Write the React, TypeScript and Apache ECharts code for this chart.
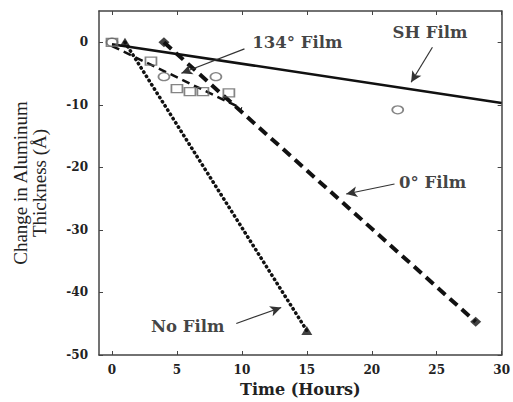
import React, { useEffect, useRef } from "react";
import * as echarts from "echarts";

// Measured points
const shTimes = [0, 4, 8, 22];
const shValues = [0, -5.5, -5.5, -10.8];
const film134Times = [0, 3, 5, 6, 7, 9];
const film134Values = [0, -3.0, -7.4, -7.9, -7.9, -8.1];
const film0Times = [4, 28];
const film0Values = [0, -44.7];
const noFilmTimes = [1, 15];
const noFilmValues = [0, -46.1];

// Fitted lines
const shFitTimes = [0, 30];
const shFitValues = [-0.3, -9.7];
const fit134Times = [0, 10];
const fit134Values = [-0.6, -10.6];
const fit0Times = [4, 28];
const fit0Values = [0, -44.7];
const fitNoTimes = [1, 15];
const fitNoValues = [0, -46.1];

const xTicks = [0, 5, 10, 15, 20, 25, 30];
const yTicks = [-50, -40, -30, -20, -10, 0];

// Annotation labels and arrows (data coordinates)
const annotLabels = ["134° Film", "SH Film", "0° Film", "No Film"];
const annotPos = [
  [10.8, -0.05],
  [21.6, 1.55],
  [22.1, -22.4],
  [3.0, -45.5],
];
const arrowFrom = [
  [10.2, -1.06],
  [24.67, -0.8],
  [21.75, -22.66],
  [9.57, -44.96],
];
const arrowTo = [
  [5.34, -4.96],
  [23.03, -6.4],
  [18.03, -24.26],
  [13.03, -42.4],
];

const zip = (xs: number[], ys: number[]) => xs.map((x, i) => [x, ys[i]]);

const SERIF_BOLD = "DejaVu Serif";
const AXIS_COLOR = "#444";

export default function App() {
  const ref = useRef<HTMLDivElement>(null);
  useEffect(() => {
    if (!ref.current) return;
    const chart = echarts.init(ref.current, undefined, { renderer: "svg" });
    const tickLabel = {
      fontFamily: SERIF_BOLD,
      fontWeight: "bold" as const,
      fontSize: 12,
      color: "#222",
    };
    chart.setOption({
      animation: false,
      backgroundColor: "#fff",
      grid: { left: 99, right: 10, top: 11, bottom: 47, show: false },
      xAxis: [
        {
          type: "value",
          min: -1,
          max: 30,
          position: "bottom",
          splitLine: { show: false },
          axisLine: { show: true, onZero: false, lineStyle: { color: AXIS_COLOR, width: 1.5 } },
          axisTick: { show: true, inside: true, length: 4, customValues: xTicks, lineStyle: { color: AXIS_COLOR } },
          axisLabel: { ...tickLabel, margin: 9, customValues: xTicks },
          name: "Time (Hours)",
          nameLocation: "middle",
          nameGap: 26,
          nameTextStyle: { fontFamily: SERIF_BOLD, fontWeight: "bold", fontSize: 16, color: "#222" },
        },
        {
          type: "value",
          min: -1,
          max: 30,
          position: "top",
          splitLine: { show: false },
          axisLine: { show: true, onZero: false, lineStyle: { color: AXIS_COLOR, width: 1.5 } },
          axisTick: { show: true, inside: true, length: 4, customValues: xTicks, lineStyle: { color: AXIS_COLOR } },
          axisLabel: { show: false },
        },
      ],
      yAxis: [
        {
          type: "value",
          min: -50,
          max: 5,
          position: "left",
          splitLine: { show: false },
          axisLine: { show: true, onZero: false, lineStyle: { color: AXIS_COLOR, width: 1.5 } },
          axisTick: { show: true, inside: true, length: 4, customValues: yTicks, lineStyle: { color: AXIS_COLOR } },
          axisLabel: { ...tickLabel, margin: 11, customValues: yTicks },
          name: "Change in Aluminum\nThickness (Å)",
          nameLocation: "middle",
          nameGap: 50,
          nameTextStyle: {
            fontFamily: "Liberation Serif",
            fontSize: 19,
            lineHeight: 19,
            color: "#222",
            align: "center",
          },
        },
        {
          type: "value",
          min: -50,
          max: 5,
          position: "right",
          splitLine: { show: false },
          axisLine: { show: true, onZero: false, lineStyle: { color: AXIS_COLOR, width: 1.5 } },
          axisTick: { show: true, inside: true, length: 4, customValues: yTicks, lineStyle: { color: AXIS_COLOR } },
          axisLabel: { show: false },
        },
      ],
      series: [
        {
          name: "SH fit",
          type: "line",
          data: zip(shFitTimes, shFitValues),
          showSymbol: false,
          lineStyle: { color: "#111", width: 2.5 },
          z: 3,
        },
        {
          name: "134 fit",
          type: "line",
          data: zip(fit134Times, fit134Values),
          showSymbol: false,
          lineStyle: { color: "#111", width: 2.5, type: [8, 5] },
          z: 3,
        },
        {
          name: "0 fit",
          type: "line",
          data: zip(fit0Times, fit0Values),
          showSymbol: false,
          lineStyle: { color: "#111", width: 4, type: [10, 6] },
          z: 3,
        },
        {
          name: "No film fit",
          type: "line",
          data: zip(fitNoTimes, fitNoValues),
          showSymbol: false,
          lineStyle: { color: "#111", width: 3.5, type: [0.5, 4.5], cap: "round" },
          z: 3,
        },
        {
          name: "SH Film",
          type: "scatter",
          data: zip(shTimes, shValues),
          symbol: "circle",
          symbolSize: [11, 8],
          itemStyle: { color: "transparent", borderColor: "#666", borderWidth: 1.5 },
          z: 4,
        },
        {
          name: "134° Film",
          type: "scatter",
          data: zip(film134Times, film134Values),
          symbol: "rect",
          symbolSize: [11, 8],
          itemStyle: { color: "transparent", borderColor: "#666", borderWidth: 1.5 },
          z: 4,
        },
        {
          name: "0° Film",
          type: "scatter",
          data: zip(film0Times, film0Values),
          symbol: "diamond",
          symbolSize: [11, 10],
          itemStyle: { color: "#111" },
          z: 4,
        },
        {
          name: "No Film",
          type: "scatter",
          data: zip(noFilmTimes, noFilmValues),
          symbol: "triangle",
          symbolSize: [11, 9],
          itemStyle: { color: "#111" },
          z: 4,
        },
        {
          name: "annotations",
          type: "scatter",
          symbolSize: 0,
          silent: true,
          data: annotLabels.map((t, i) => ({
            value: annotPos[i],
            label: { formatter: t },
          })),
          label: {
            show: true,
            position: [0, 0],
            align: "left",
            verticalAlign: "middle",
            fontFamily: SERIF_BOLD,
            fontWeight: "bold",
            fontSize: 16.5,
            color: "#111",
          },
          markLine: {
            silent: true,
            symbol: ["none", "arrow"],
            symbolSize: [8, 11],
            label: { show: false },
            lineStyle: { color: "#333", width: 1.2, type: "solid" },
            data: arrowFrom.map((f, i) => [{ coord: f }, { coord: arrowTo[i] }]),
          },
          z: 5,
        },
      ],
    });
    return () => chart.dispose();
  }, []);
  return (
    <div
      ref={ref}
      style={{ position: "fixed", left: 0, top: 0, width: 513, height: 402 }}
    />
  );
}
